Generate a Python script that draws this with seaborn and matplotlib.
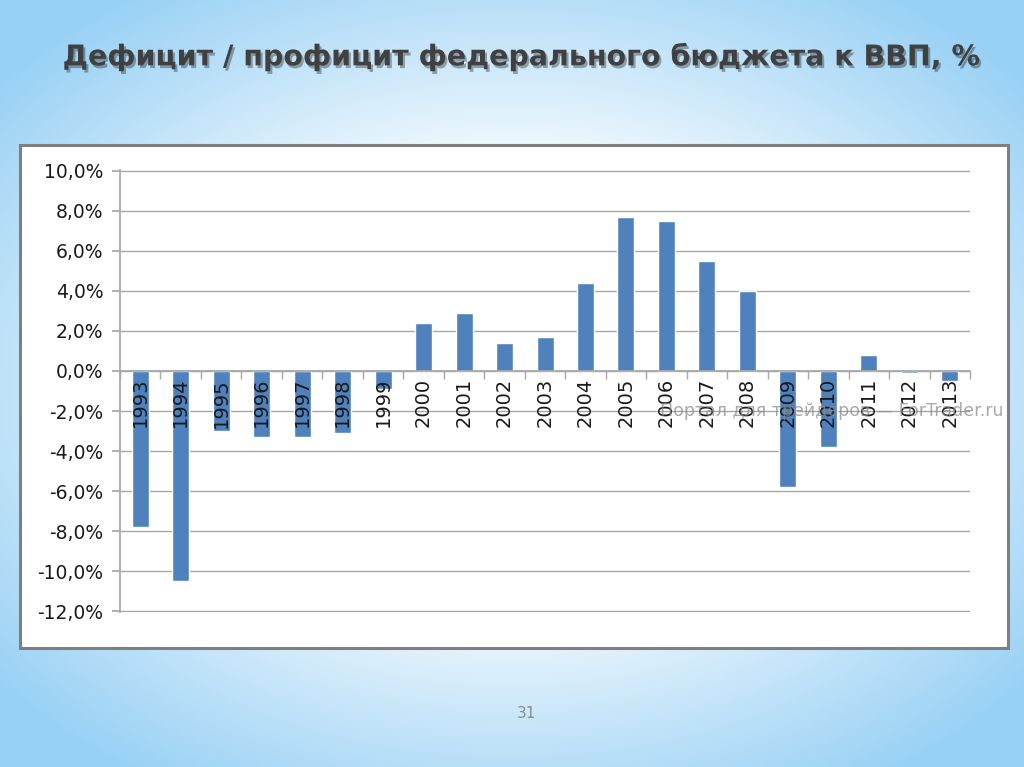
import numpy as np
import matplotlib
matplotlib.use("Agg")
import matplotlib.pyplot as plt
import matplotlib.patheffects as pe
from matplotlib.patches import Rectangle
from matplotlib.ticker import FuncFormatter, FixedLocator
import seaborn as sns

# Data
years = [str(y) for y in range(1993, 2014)]
balance = [-7.8, -10.5, -3.0, -3.3, -3.3, -3.1, -0.9, 2.4, 2.9, 1.4, 1.7,
           4.4, 7.7, 7.5, 5.5, 4.0, -5.8, -3.8, 0.8, -0.1, -0.5]
yticks = [-12, -10, -8, -6, -4, -2, 0, 2, 4, 6, 8, 10]

title = "Дефицит / профицит федерального бюджета к ВВП, %"
watermark = "Портал для трейдеров — ForTrader.ru"
page_no = "31"

sns.set_theme(style="white")
plt.rcParams['font.family'] = ['DejaVu Sans']

fig = plt.figure(figsize=(10.24, 7.67), dpi=100)

# slide background: white centre fading to light blue at the edges
bg = fig.add_axes([0, 0, 1, 1], zorder=-10)
gx, gy = np.meshgrid(np.linspace(-1, 1, 400), np.linspace(-1, 1, 300))
r = np.sqrt((gx / 1.0) ** 2 + (gy / 0.95) ** 2)
t = np.clip((r - 0.55) / 0.75, 0, 1) ** 0.9
edge = np.array([0.60, 0.82, 0.96])
img = (1 - t[..., None]) * np.ones(3) + t[..., None] * edge
bg.imshow(img, aspect='auto', extent=[0, 1, 0, 1], interpolation='bilinear')
bg.axis('off')

# chart frame
fig.patches.append(Rectangle((20 / 1024, 1 - 648 / 767), 988 / 1024, 503 / 767,
                             transform=fig.transFigure, facecolor='white',
                             edgecolor='#7f7f7f', linewidth=2.2, zorder=-5))

ax = fig.add_axes([120 / 1024, 1 - 612 / 767, 850 / 1024, 442 / 767])
ax.set_facecolor('none')
sns.barplot(x=years, y=balance, color='#4F81BD', width=0.42, saturation=1,
            ax=ax, zorder=3)

ax.set_ylim(-12.03, 10.03)
ax.set_xlim(-0.5, len(years) - 0.5)
ax.set_yticks(yticks)
ax.yaxis.set_major_formatter(FuncFormatter(lambda v, p: f"{v:.1f}%".replace('.', ',')))
ax.grid(axis='y', color='#a6a6a6', linewidth=1, zorder=0)
ax.grid(axis='x', visible=False)

for s in ['top', 'right']:
    ax.spines[s].set_visible(False)
ax.spines['left'].set_color('#a6a6a6')
ax.spines['bottom'].set_color('#a6a6a6')
ax.spines['bottom'].set_position(('data', 0))
ax.spines['bottom'].set_zorder(4)

ax.tick_params(axis='y', direction='out', length=6, color='#a6a6a6', left=True,
               labelsize=13.5, labelcolor='#1a1a1a', pad=6)
ax.xaxis.set_minor_locator(FixedLocator(np.arange(-0.5, len(years), 1)))
ax.tick_params(axis='x', which='minor', direction='out', length=6,
               color='#a6a6a6', bottom=True)
ax.tick_params(axis='x', which='major', length=0, labelsize=14,
               labelcolor='#1a1a1a', pad=5, labelrotation=90)
# year labels are drawn over the bars
ax.xaxis.set_zorder(5)
ax.set_xlabel('')
ax.set_ylabel('')

fig.text(522 / 1024, 1 - 57 / 767, title, ha='center', va='center', fontsize=20.5,
         fontweight='bold', color='#404040', family='DejaVu Sans',
         path_effects=[pe.withSimplePatchShadow(offset=(1.5, -2), alpha=0.35)])
fig.text(1003 / 1024, 1 - 411 / 767, watermark, ha='right', va='center',
         fontsize=12.5, color='#8c8c8c', alpha=0.75, zorder=1)
fig.text(527 / 1024, 1 - 713 / 767, page_no, ha='center', va='center',
         fontsize=11, color='#8c8c8c')

fig.savefig('out.png', dpi=100)
